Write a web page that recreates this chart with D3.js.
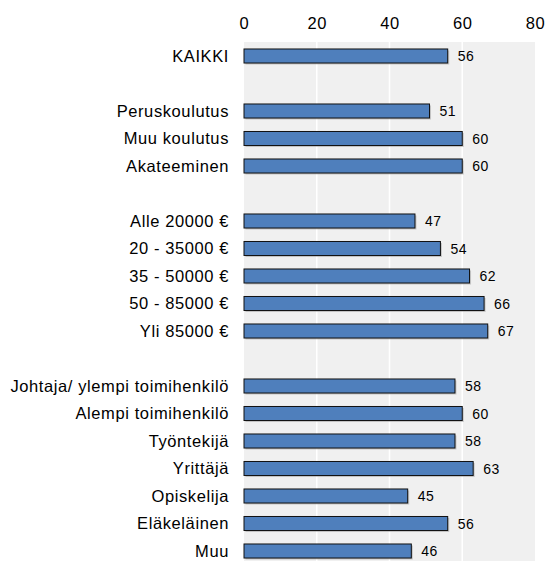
<!DOCTYPE html>
<html>
<head>
<meta charset="utf-8">
<script src="https://cdn.jsdelivr.net/npm/d3@7"></script>
<style>
  body { margin: 0; background: #fff; }
  text { font-family: "Liberation Sans", Arial, sans-serif; }
</style>
</head>
<body>
<div id="chart"></div>
<script>
// Rivit (tyhjät rivit ovat ryhmien välisiä välejä)
var categories = ["KAIKKI", "_v1", "Peruskoulutus", "Muu koulutus", "Akateeminen", "_v2",
    "Alle 20000 €", "20 - 35000 €", "35 - 50000 €", "50 - 85000 €", "Yli 85000 €", "_v3",
    "Johtaja/ ylempi toimihenkilö", "Alempi toimihenkilö", "Työntekijä", "Yrittäjä",
    "Opiskelija", "Eläkeläinen", "Muu"];
var values = [56, null, 51, 60, 60, null, 47, 54, 62, 66, 67, null, 58, 60, 58, 63, 45, 56, 46];
var ticks = [0, 20, 40, 60, 80];

var width = 546, height = 561;
var data = categories.map(function(c, i) { return {cat: c, value: values[i]}; });

var svg = d3.select("#chart").append("svg")
    .attr("width", width)
    .attr("height", height);

var x = d3.scaleLinear().domain([0, 80]).range([244, 535]);
var y = d3.scaleBand().domain(categories).range([42.25, 564.75]).paddingInner(0.49).paddingOuter(0.245);

// Taustan harmaa alue
svg.append("rect")
    .attr("x", x(0)).attr("y", 42)
    .attr("width", x(80) - x(0)).attr("height", height - 42)
    .attr("fill", "#f0f0f0");

// Pystyviivat
svg.selectAll("line.grid")
    .data(ticks.slice(1, -1))
    .enter().append("line")
    .attr("x1", d => x(d)).attr("x2", d => x(d))
    .attr("y1", 42).attr("y2", height)
    .attr("stroke", "#fff").attr("stroke-width", 1.5);

// Akselin luvut ylhäällä
var axis = svg.append("g")
    .attr("transform", "translate(0,29)")
    .call(d3.axisTop(x).tickValues(ticks).tickSize(0).tickPadding(0));
axis.select(".domain").remove();
axis.selectAll("text").attr("font-size", 16.5).attr("letter-spacing", 0.6).attr("fill", "#000").attr("dy", 0);

var rows = data.filter(d => d.value !== null);

// Varjo
svg.selectAll("rect.shadow")
    .data(rows)
    .enter().append("rect")
    .attr("x", x(0) + 1.5).attr("y", d => y(d.cat) + 1.5)
    .attr("width", d => x(d.value) - x(0))
    .attr("height", y.bandwidth())
    .attr("fill", "#aaa").attr("opacity", 0.6);

svg.selectAll("rect.bar")
    .data(rows)
    .enter().append("rect")
    .attr("x", x(0)).attr("y", d => y(d.cat))
    .attr("width", d => x(d.value) - x(0))
    .attr("height", y.bandwidth())
    .attr("fill", "#4f7fbc")
    .attr("stroke", "#111").attr("stroke-width", 1);

// Arvot palkkien perään
svg.selectAll("text.val")
    .data(rows)
    .enter().append("text")
    .attr("x", d => x(d.value) + 10)
    .attr("y", d => y(d.cat) + y.bandwidth() / 2)
    .attr("dy", "0.36em")
    .attr("font-size", 14)
    .attr("letter-spacing", 0.5)
    .text(d => d.value);

// Rivien nimet
svg.selectAll("text.cat")
    .data(rows)
    .enter().append("text")
    .attr("x", 229)
    .attr("y", d => y(d.cat) + y.bandwidth() / 2)
    .attr("dy", "0.36em")
    .attr("text-anchor", "end")
    .attr("font-size", 16.5)
    .attr("letter-spacing", 0.6)
    .text(d => d.cat);
</script>
</body>
</html>
